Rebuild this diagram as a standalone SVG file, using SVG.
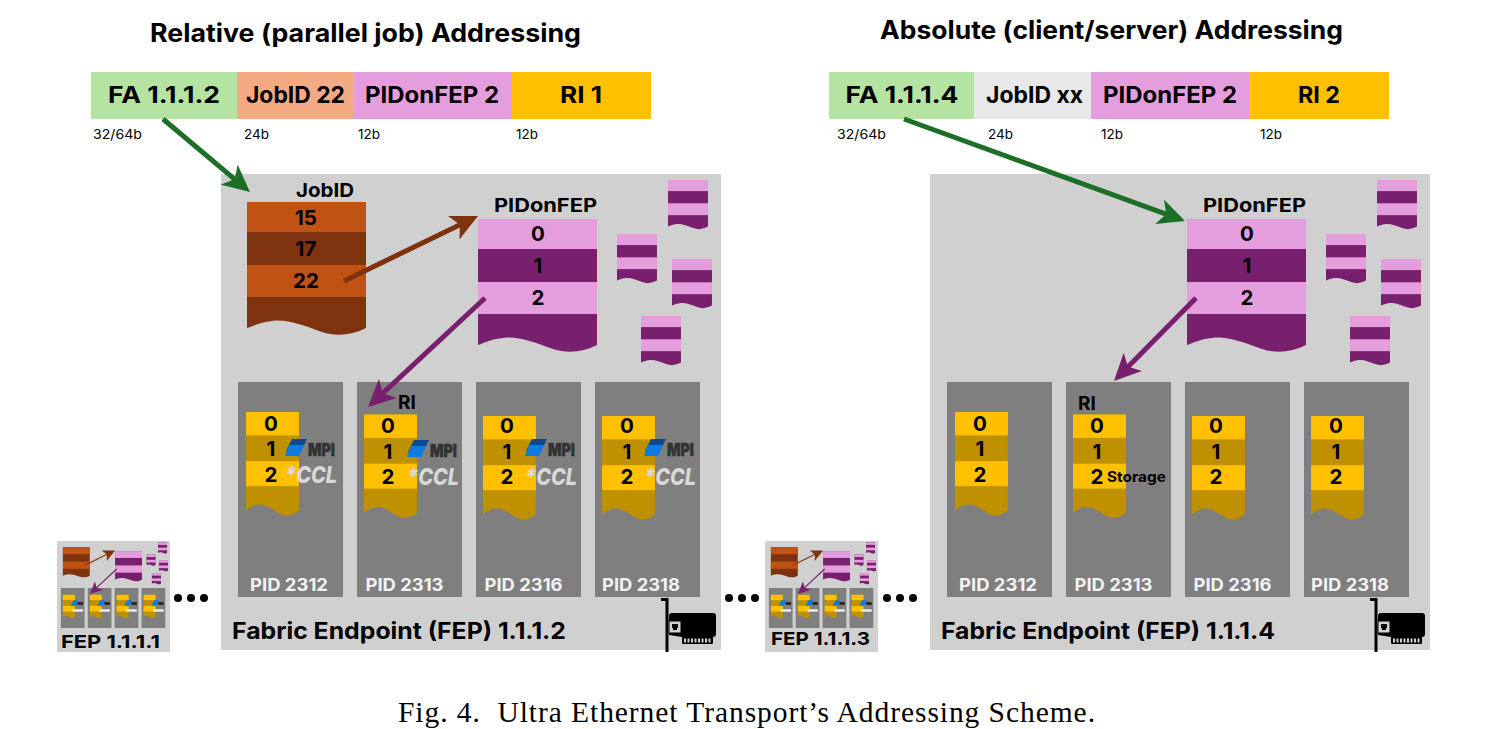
<svg xmlns="http://www.w3.org/2000/svg" width="1503" height="729" viewBox="0 0 1503 729">
<style>
text{font-family:Inter,"Liberation Sans",sans-serif;font-weight:700;fill:#000}
.title{font-size:25px}
.field{font-size:22.500px;text-anchor:middle}
.bits{font-size:13.500px;font-weight:400}
.fep{fill:#d0d0d0}
.box{fill:#7f7f7f}
.lbl{font-size:19px}
.num{font-size:20.500px;text-anchor:middle}
.pid{font-size:17.500px;fill:#f2f2f2;text-anchor:middle}
.feplbl{font-size:23px}
.thumblbl{font-size:18px}
.mpi{font-size:18px;font-weight:900;fill:#333;stroke:#333;stroke-width:.5px}
.ccl{font-size:23px;font-style:italic;font-weight:800;fill:#d8d8d8}
.cap{font-family:"Liberation Serif",serif;font-weight:400;font-size:29.500px;white-space:pre}
.job{fill:#7f320e;color:#c05213}
.pink{fill:#78206e;color:#e59edd}
.gold{fill:#bf9000;color:#ffc000}
.arrow{fill:none;stroke-width:5}
.dot{fill:#000}
</style>
<defs>
<marker id="hg" markerUnits="userSpaceOnUse" viewBox="0 0 27 26" markerWidth="27" markerHeight="26" refX="15" refY="13" orient="auto"><path d="M27,13 0,0 7,13 0,26Z" fill="#1d6f27"/></marker>
<marker id="hb" markerUnits="userSpaceOnUse" viewBox="0 0 27 26" markerWidth="27" markerHeight="26" refX="15" refY="13" orient="auto"><path d="M27,13 0,0 7,13 0,26Z" fill="#7f320e"/></marker>
<marker id="hp" markerUnits="userSpaceOnUse" viewBox="0 0 27 26" markerWidth="27" markerHeight="26" refX="15" refY="13" orient="auto"><path d="M27,13 0,0 7,13 0,26Z" fill="#78206e"/></marker>
<marker id="tb" markerUnits="userSpaceOnUse" viewBox="0 0 27 26" markerWidth="54" markerHeight="52" refX="15" refY="13" orient="auto"><path d="M27,13 0,0 7,13 0,26Z" fill="#7f320e"/></marker>
<marker id="tp" markerUnits="userSpaceOnUse" viewBox="0 0 27 26" markerWidth="54" markerHeight="52" refX="15" refY="13" orient="auto"><path d="M27,13 0,0 7,13 0,26Z" fill="#78206e"/></marker>
<g id="stack">
<path d="M0,0H119V126C105,133 90,135 75,130C55,123 40,117 25,119C15,120 8,123 0,126Z"/>
<rect width="119" height="30" fill="currentColor"/>
<rect y="63" width="119" height="32" fill="currentColor"/>
</g>
<g id="small">
<use href="#stack" class="pink" transform="translate(668,180) scale(.336,.37)"/>
<use href="#stack" class="pink" transform="translate(617,234) scale(.336,.37)"/>
<use href="#stack" class="pink" transform="translate(672,259) scale(.336,.37)"/>
<use href="#stack" class="pink" transform="translate(641,316) scale(.336,.37)"/>
</g>
<g id="blue">
<path d="M292,439H307L301,451H286Z" fill="#0b4a8f"/>
<path d="M289,445H304L299,456H285Z" fill="#0f7ae0"/>
</g>
<g id="thumbicon">
<path d="M56,54H78L66,78H44Z" fill="#0f7ae0"/>
<rect x="74" y="62" width="24" height="13" fill="#2a2a2a"/>
<rect x="52" y="94" width="46" height="11" fill="#ececec"/>
</g>
<g id="thumbbox">
<rect class="box" width="105" height="177"/>
<use href="#stack" class="gold" transform="translate(9,30) scale(.445,.78)"/>
<use href="#thumbicon"/>
</g>
<g id="thumb">
<g transform="scale(.226) translate(-221,-174)">
<use href="#stack" class="job" transform="translate(247,202)"/>
<use href="#stack" class="pink" transform="translate(478,219)"/>
<use href="#small"/>
<use href="#thumbbox" transform="translate(238,382)"/>
<use href="#thumbbox" transform="translate(357,382)"/>
<use href="#thumbbox" transform="translate(476,382)"/>
<use href="#thumbbox" transform="translate(595,382)"/>
<path class="arrow" d="M344,281 456.4,226.5" stroke="#7f320e" marker-end="url(#tb)"/>
<path class="arrow" d="M485,298 384.5,391.7" stroke="#78206e" marker-end="url(#tp)"/>
</g>
</g>
<g id="nic">
<path d="M661,598H668.500V652H665.500V601H661Z"/>
<path d="M672,613H713Q716,613 716,616V634Q716,637 713,637H682L669,635V616Q669,613 672,613Z"/>
<rect x="682" y="636" width="31" height="8" rx="1"/>
<line x1="684" y1="640.500" x2="711" y2="640.500" stroke="#d0d0d0" stroke-width="4" stroke-dasharray="2 1.500"/>
<rect x="669" y="621" width="12" height="12" fill="#d0d0d0" stroke="#000" stroke-width="1"/>
<path d="M672,624H678V628H677V630H673V628H672Z"/>
</g>
</defs>
<rect width="1503" height="729" fill="#fff"/>

<g id="title-relative"><text class="title" x="150" y="42" textLength="431" lengthAdjust="spacingAndGlyphs">Relative (parallel job) Addressing</text></g>
<g id="title-absolute"><text class="title" x="880" y="39" textLength="463" lengthAdjust="spacingAndGlyphs">Absolute (client/server) Addressing</text></g>

<g id="address-relative">
<rect x="91" y="72" width="146" height="47" fill="#b5e3a1"/>
<rect x="237" y="72" width="116" height="47" fill="#f4ab84"/>
<rect x="353" y="72" width="158" height="47" fill="#e59edd"/>
<rect x="511" y="72" width="140" height="47" fill="#ffc000"/>
<text class="field" x="164" y="103" textLength="112" lengthAdjust="spacingAndGlyphs">FA 1.1.1.2</text>
<text class="field" x="295.500" y="103" textLength="99" lengthAdjust="spacingAndGlyphs">JobID 22</text>
<text class="field" x="432" y="103" textLength="134" lengthAdjust="spacingAndGlyphs">PIDonFEP 2</text>
<text class="field" x="581" y="103" textLength="42" lengthAdjust="spacingAndGlyphs">RI 1</text>
<text class="bits" x="93" y="139" textLength="49" lengthAdjust="spacingAndGlyphs">32/64b</text>
<text class="bits" x="244" y="139">24b</text>
<text class="bits" x="358" y="139">12b</text>
<text class="bits" x="516" y="139">12b</text>
</g>

<g id="address-absolute">
<rect x="829" y="72" width="145" height="47" fill="#b5e3a1"/>
<rect x="974" y="72" width="117" height="47" fill="#e8e8e8"/>
<rect x="1091" y="72" width="158" height="47" fill="#e59edd"/>
<rect x="1249" y="72" width="140" height="47" fill="#ffc000"/>
<text class="field" x="902" y="103" textLength="113" lengthAdjust="spacingAndGlyphs">FA 1.1.1.4</text>
<text class="field" x="1034.500" y="103" textLength="97" lengthAdjust="spacingAndGlyphs">JobID xx</text>
<text class="field" x="1170" y="103" textLength="134" lengthAdjust="spacingAndGlyphs">PIDonFEP 2</text>
<text class="field" x="1319" y="103" textLength="42" lengthAdjust="spacingAndGlyphs">RI 2</text>
<text class="bits" x="837" y="139" textLength="49" lengthAdjust="spacingAndGlyphs">32/64b</text>
<text class="bits" x="988" y="139">24b</text>
<text class="bits" x="1101" y="139">12b</text>
<text class="bits" x="1260" y="139">12b</text>
</g>

<g id="fep-1-1-1-1">
<rect class="fep" x="57" y="541" width="113" height="111"/>
<use href="#thumb" transform="translate(57,541)"/>
<text class="thumblbl" x="61" y="648" textLength="99" lengthAdjust="spacingAndGlyphs">FEP 1.1.1.1</text>
</g>

<g id="fep-1-1-1-3">
<rect class="fep" x="765" y="541" width="113" height="111"/>
<use href="#thumb" transform="translate(765,541)"/>
<text class="thumblbl" x="771" y="645" textLength="99" lengthAdjust="spacingAndGlyphs">FEP 1.1.1.3</text>
</g>

<g id="dots">
<circle class="dot" cx="178" cy="598" r="4"/><circle class="dot" cx="191" cy="598" r="4"/><circle class="dot" cx="204" cy="598" r="4"/>
<circle class="dot" cx="729" cy="598" r="4"/><circle class="dot" cx="742" cy="598" r="4"/><circle class="dot" cx="755" cy="598" r="4"/>
<circle class="dot" cx="887" cy="598" r="4"/><circle class="dot" cx="900" cy="598" r="4"/><circle class="dot" cx="913" cy="598" r="4"/>
</g>

<g id="fep-1-1-1-2">
<rect class="fep" x="221" y="174" width="500" height="476"/>
<text class="feplbl" x="232" y="639" textLength="334" lengthAdjust="spacingAndGlyphs">Fabric Endpoint (FEP) 1.1.1.2</text>
<use href="#nic"/>
<g id="jobid-table">
<use href="#stack" class="job" transform="translate(247,202)"/>
<text class="lbl" x="296" y="197" textLength="58" lengthAdjust="spacingAndGlyphs">JobID</text>
<text class="num" x="306" y="225">15</text>
<text class="num" x="306" y="256">17</text>
<text class="num" x="306" y="288">22</text>
</g>
<g id="pidonfep-table-rel">
<use href="#stack" class="pink" transform="translate(478,219)"/>
<text class="lbl" x="494" y="212" textLength="103" lengthAdjust="spacingAndGlyphs">PIDonFEP</text>
<text class="num" x="538" y="241">0</text>
<text class="num" x="538" y="273">1</text>
<text class="num" x="538" y="305">2</text>
</g>
<use href="#small"/>
<g id="pid-rel-2312">
<rect class="box" x="238" y="382" width="105" height="215"/>
<use href="#stack" class="gold" transform="translate(246,412) scale(.445,.78)"/>
<text class="num" x="271" y="431">0</text><text class="num" x="271" y="456">1</text><text class="num" x="271" y="482">2</text>
<use href="#blue"/>
<text class="mpi" x="308" y="456" textLength="27" lengthAdjust="spacingAndGlyphs">MPI</text>
<text class="ccl" x="285" y="483" textLength="52" lengthAdjust="spacingAndGlyphs">*CCL</text>
<text class="pid" x="289" y="591" textLength="78" lengthAdjust="spacingAndGlyphs">PID 2312</text>
</g>
<g id="pid-rel-2313">
<rect class="box" x="357" y="382" width="105" height="215"/>
<use href="#stack" class="gold" transform="translate(364,414.500) scale(.445,.78)"/>
<text class="num" x="388" y="433">0</text><text class="num" x="388" y="459">1</text><text class="num" x="388" y="484">2</text>
<use href="#blue" transform="translate(122,1)"/>
<text class="lbl" x="398" y="409">RI</text>
<text class="mpi" x="430" y="457" textLength="27" lengthAdjust="spacingAndGlyphs">MPI</text>
<text class="ccl" x="407" y="485" textLength="52" lengthAdjust="spacingAndGlyphs">*CCL</text>
<text class="pid" x="404.500" y="591" textLength="78" lengthAdjust="spacingAndGlyphs">PID 2313</text>
</g>
<g id="pid-rel-2316">
<rect class="box" x="476" y="382" width="105" height="215"/>
<use href="#stack" class="gold" transform="translate(483,416) scale(.445,.78)"/>
<text class="num" x="507" y="433">0</text><text class="num" x="507" y="459">1</text><text class="num" x="507" y="484">2</text>
<use href="#blue" transform="translate(240,0)"/>
<text class="mpi" x="548" y="456" textLength="27" lengthAdjust="spacingAndGlyphs">MPI</text>
<text class="ccl" x="525" y="485" textLength="52" lengthAdjust="spacingAndGlyphs">*CCL</text>
<text class="pid" x="523.500" y="591" textLength="78" lengthAdjust="spacingAndGlyphs">PID 2316</text>
</g>
<g id="pid-rel-2318">
<rect class="box" x="595" y="382" width="105" height="215"/>
<use href="#stack" class="gold" transform="translate(602,416) scale(.445,.78)"/>
<text class="num" x="627" y="433">0</text><text class="num" x="627" y="459">1</text><text class="num" x="627" y="484">2</text>
<use href="#blue" transform="translate(359,0)"/>
<text class="mpi" x="667" y="456" textLength="27" lengthAdjust="spacingAndGlyphs">MPI</text>
<text class="ccl" x="644" y="485" textLength="52" lengthAdjust="spacingAndGlyphs">*CCL</text>
<text class="pid" x="641" y="591" textLength="78" lengthAdjust="spacingAndGlyphs">PID 2318</text>
</g>
</g>

<g id="fep-1-1-1-4">
<rect class="fep" x="930" y="174" width="500" height="476"/>
<text class="feplbl" x="941" y="639" textLength="334" lengthAdjust="spacingAndGlyphs">Fabric Endpoint (FEP) 1.1.1.4</text>
<use href="#nic" transform="translate(709,0)"/>
<g id="pidonfep-table-abs">
<use href="#stack" class="pink" transform="translate(1187,219)"/>
<text class="lbl" x="1203" y="212" textLength="103" lengthAdjust="spacingAndGlyphs">PIDonFEP</text>
<text class="num" x="1247" y="241">0</text>
<text class="num" x="1247" y="273">1</text>
<text class="num" x="1247" y="305">2</text>
</g>
<use href="#small" transform="translate(709,0)"/>
<g id="pid-abs-2312">
<rect class="box" x="947" y="382" width="105" height="215"/>
<use href="#stack" class="gold" transform="translate(955,412) scale(.445,.78)"/>
<text class="num" x="980" y="431">0</text><text class="num" x="980" y="456">1</text><text class="num" x="980" y="482">2</text>
<text class="pid" x="998" y="591" textLength="78" lengthAdjust="spacingAndGlyphs">PID 2312</text>
</g>
<g id="pid-abs-2313">
<rect class="box" x="1066" y="382" width="105" height="215"/>
<use href="#stack" class="gold" transform="translate(1073,414.500) scale(.445,.78)"/>
<text class="num" x="1097" y="433">0</text><text class="num" x="1097" y="459">1</text><text class="num" x="1097" y="484">2</text>
<text class="lbl" x="1078" y="410">RI</text>
<text x="1107" y="482" font-size="14.500" textLength="59" lengthAdjust="spacingAndGlyphs">Storage</text>
<text class="pid" x="1113.500" y="591" textLength="78" lengthAdjust="spacingAndGlyphs">PID 2313</text>
</g>
<g id="pid-abs-2316">
<rect class="box" x="1185" y="382" width="105" height="215"/>
<use href="#stack" class="gold" transform="translate(1192,416) scale(.445,.78)"/>
<text class="num" x="1216" y="433">0</text><text class="num" x="1216" y="459">1</text><text class="num" x="1216" y="484">2</text>
<text class="pid" x="1232.500" y="591" textLength="78" lengthAdjust="spacingAndGlyphs">PID 2316</text>
</g>
<g id="pid-abs-2318">
<rect class="box" x="1304" y="382" width="105" height="215"/>
<use href="#stack" class="gold" transform="translate(1311,416) scale(.445,.78)"/>
<text class="num" x="1336" y="433">0</text><text class="num" x="1336" y="459">1</text><text class="num" x="1336" y="484">2</text>
<text class="pid" x="1350" y="591" textLength="78" lengthAdjust="spacingAndGlyphs">PID 2318</text>
</g>
</g>

<g id="connectors">
<path class="arrow" d="M163,119 240.800,184.300" stroke="#1d6f27" marker-end="url(#hg)"/>
<path class="arrow" d="M904,119 1173.700,216.900" stroke="#1d6f27" marker-end="url(#hg)"/>
<path class="arrow" d="M344,281 467.200,221.200" stroke="#7f320e" marker-end="url(#hb)"/>
<path class="arrow" d="M485,298 376.800,398.800" stroke="#78206e" marker-end="url(#hp)"/>
<path class="arrow" d="M1196,298 1122.400,372.500" stroke="#78206e" marker-end="url(#hp)"/>
</g>

<text class="cap" x="398" y="722" textLength="697" lengthAdjust="spacing">Fig. 4.  Ultra Ethernet Transport’s Addressing Scheme.</text>
</svg>
